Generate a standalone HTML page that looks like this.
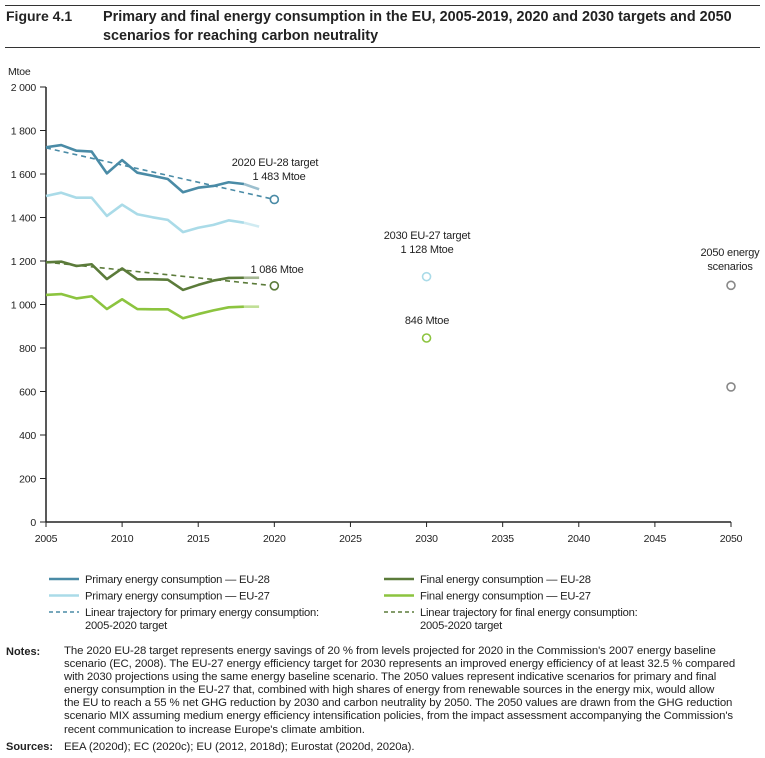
<!DOCTYPE html>
<html><head><meta charset="utf-8">
<style>
body{margin:0;background:#fff;font-family:"Liberation Sans",sans-serif;color:#222;}
#wrap{position:relative;width:765px;height:758px;overflow:hidden;}
.t{position:absolute;white-space:nowrap;}
</style></head>
<body>
<div id="wrap">
<div style="position:absolute;left:5px;top:5px;width:755px;border-top:1px solid #333"></div>
<div class="t" style="left:6px;top:8px;font-size:14px;font-weight:bold">Figure 4.1</div>
<div class="t" style="left:103px;top:8px;font-size:14.4px;font-weight:bold;line-height:19px">Primary and final energy consumption in the EU, 2005-2019, 2020 and 2030 targets and 2050<br>scenarios for reaching carbon neutrality</div>
<div style="position:absolute;left:5px;top:47px;width:755px;border-top:1px solid #333"></div>
<svg id="chart" width="765" height="640" style="position:absolute;left:0;top:0"></svg>
<div class="t" style="left:6px;top:646px;font-size:11px;font-weight:bold">Notes:</div>
<div class="t" style="left:64px;top:645px;font-size:11.4px;line-height:13.1px;letter-spacing:-0.1px">The 2020 EU-28 target represents energy savings of 20 % from levels projected for 2020 in the Commission's 2007 energy baseline<br>scenario (EC, 2008). The EU-27 energy efficiency target for 2030 represents an improved energy efficiency of at least 32.5 % compared<br>with 2030 projections using the same energy baseline scenario. The 2050 values represent indicative scenarios for primary and final<br>energy consumption in the EU-27 that, combined with high shares of energy from renewable sources in the energy mix, would allow<br>the EU to reach a 55 % net GHG reduction by 2030 and carbon neutrality by 2050. The 2050 values are drawn from the GHG reduction<br>scenario MIX assuming medium energy efficiency intensification policies, from the impact assessment accompanying the Commission's<br>recent communication to increase Europe's climate ambition.</div>
<div class="t" style="left:6px;top:741px;font-size:11px;font-weight:bold">Sources:</div>
<div class="t" style="left:64px;top:741px;font-size:11.4px;letter-spacing:-0.1px">EEA (2020d); EC (2020c); EU (2012, 2018d); Eurostat (2020d, 2020a).</div>
</div>
<script>
const years=[2005,2006,2007,2008,2009,2010,2011,2012,2013,2014,2015,2016,2017,2018,2019];
const primary28=[1723,1733,1707,1703,1603,1664,1606,1592,1577,1516,1537,1545,1562,1554,1530];
const primary27=[1499,1514,1491,1491,1407,1459,1415,1401,1389,1333,1353,1366,1387,1376,1358];
const final28=[1194,1197,1177,1185,1117,1166,1116,1116,1114,1067,1090,1110,1122,1123,1123];
const final27=[1044,1048,1028,1038,979,1024,979,978,978,937,956,973,987,990,990];
const primaryTraj=[[2005,1720],[2020,1483]];
const finalTraj=[[2005,1195],[2020,1086]];
const targetYears=[2020,2020,2030,2030,2050,2050];
const targetValues=[1483,1086,1128,846,1088,621];
const yTicks=[0,200,400,600,800,1000,1200,1400,1600,1800,2000];
const yTickLabels=["0","200","400","600","800","1 000","1 200","1 400","1 600","1 800","2 000"];
const xTicks=[2005,2010,2015,2020,2025,2030,2035,2040,2045,2050];

const C={p28:"#4a8ba6",p27:"#aadbe8",f28:"#5b7b3a",f27:"#8cc43f"};
const X=y=>46+(y-2005)*(685/45);
const Y=v=>522-v*0.2175;
const svg=document.getElementById('chart');
const NS="http://www.w3.org/2000/svg";
function mk(tag,attrs,name){const e=document.createElementNS(NS,tag);for(const k in attrs)e.setAttribute(k,attrs[k]);


svg.appendChild(e);return e;}
function txt(x,y,s,name,anchor,size){const e=mk('text',{x:x,y:y,'font-size':size||10.5,'text-anchor':anchor||'start',fill:'#222','font-family':'Liberation Sans, sans-serif','letter-spacing':'-0.2'},name);e.textContent=s;return e;}

txt(8,75,"Mtoe","y-axis-unit");
mk('line',{x1:46,y1:Y(2000),x2:46,y2:Y(0),stroke:'#222','stroke-width':1.5},'y-axis');
mk('line',{x1:46,y1:Y(0),x2:731,y2:Y(0),stroke:'#222','stroke-width':1.5},'x-axis');
yTicks.forEach((v,i)=>{mk('line',{x1:40,y1:Y(v),x2:46,y2:Y(v),stroke:'#222'},'y-tick');
 txt(36,Y(v)+4,yTickLabels[i],'y-tick-label','end');});
xTicks.forEach(v=>{mk('line',{x1:X(v),y1:Y(0),x2:X(v),y2:Y(0)+5,stroke:'#222'},'x-tick');
 txt(X(v),Y(0)+20,String(v),'x-tick-label','middle');});

function series(vals,col,name){
 const pts=vals.map((v,i)=>X(years[i])+','+Y(v));
 mk('polyline',{points:pts.slice(0,-1).join(' '),fill:'none',stroke:col,'stroke-width':2.6,'stroke-linejoin':'round'},name);
 mk('polyline',{points:pts.slice(-2).join(' '),fill:'none',stroke:col,'stroke-width':2.6,opacity:0.55},name+'-2019');
}
series(primary27,C.p27,'primary-eu27-line');
series(final27,C.f27,'final-eu27-line');
series(primary28,C.p28,'primary-eu28-line');
series(final28,C.f28,'final-eu28-line');
mk('line',{x1:X(primaryTraj[0][0]),y1:Y(primaryTraj[0][1]),x2:X(primaryTraj[1][0]),y2:Y(primaryTraj[1][1]),stroke:C.p28,'stroke-width':1.6,'stroke-dasharray':'5,4'},'primary-trajectory');
mk('line',{x1:X(finalTraj[0][0]),y1:Y(finalTraj[0][1]),x2:X(finalTraj[1][0]),y2:Y(finalTraj[1][1]),stroke:C.f28,'stroke-width':1.6,'stroke-dasharray':'5,4'},'final-trajectory');
const tCols=[C.p28,C.f28,C.p27,C.f27,'#888','#888'];
targetValues.forEach((v,i)=>mk('circle',{cx:X(targetYears[i]),cy:Y(v),r:4,fill:'#fff',stroke:tCols[i],'stroke-width':1.6},'target-marker'));
txt(275,166,"2020 EU-28 target","target-2020-primary-label",'middle',11);
txt(279,180,"1 483 Mtoe","target-2020-primary-value",'middle',11);
txt(277,273,"1 086 Mtoe","target-2020-final-label",'middle',11);
txt(427,239,"2030 EU-27 target","target-2030-label",'middle',11);
txt(427,253,"1 128 Mtoe","target-2030-value",'middle',11);
txt(427,324,"846 Mtoe","target-2030-final-label",'middle',11);
txt(730,256,"2050 energy","scenario-2050-label",'middle',11);
txt(730,270,"scenarios","scenario-2050-label-2",'middle',11);

const legNames=["Primary energy consumption — EU-28","Primary energy consumption — EU-27","Linear trajectory for primary energy consumption:","Final energy consumption — EU-28","Final energy consumption — EU-27","Linear trajectory for final energy consumption:"];
const legCols=[C.p28,C.p27,C.p28,C.f28,C.f27,C.f28];
legNames.forEach((s,i)=>{const col=i<3?0:1,row=i%3;const lx=col?384:49,ly=579+row*16.5;
 mk('line',{x1:lx,y1:ly,x2:lx+30,y2:ly,stroke:legCols[i],'stroke-width':row==2?1.6:2.6,'stroke-dasharray':row==2?'4,3':'none'},'legend-swatch');
 txt(lx+36,ly+4,s,'legend-entry','start',11.2);
 if(row==2) txt(lx+36,ly+17,"2005-2020 target",'legend-entry-2','start',11.2);
});
</script>
</body></html>
